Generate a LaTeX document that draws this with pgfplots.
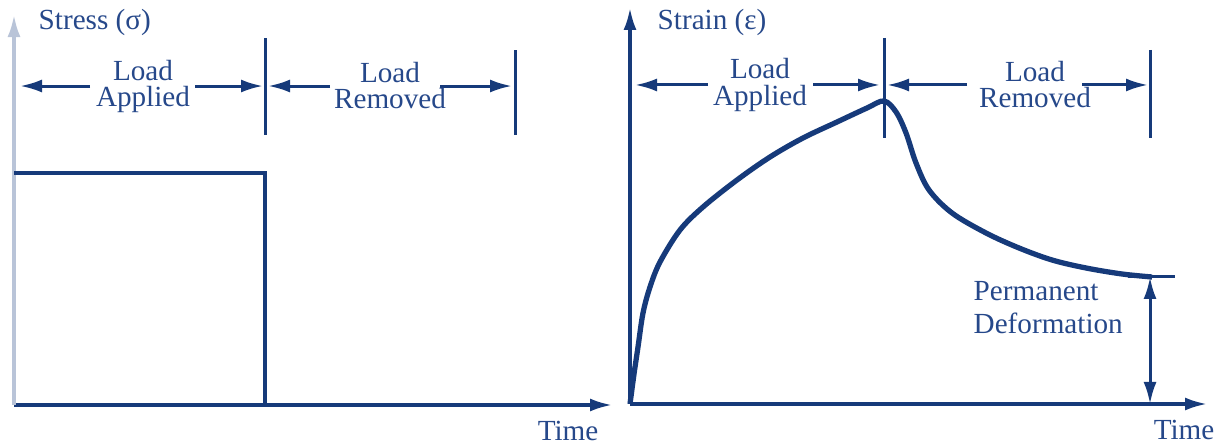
\documentclass[border=0pt]{standalone}
\usepackage{fontspec}
\setmainfont{Liberation Serif}
\usepackage{pgfplots}
\pgfplotsset{compat=1.18}
\usetikzlibrary{arrows.meta}

\definecolor{navy}{RGB}{22,58,122}
\definecolor{txt}{RGB}{38,72,138}
\definecolor{faint}{RGB}{185,196,216}

\tikzset{lbl/.style={text=txt, inner sep=0pt, align=center,
  font=\fontsize{8.3}{7.4}\selectfont}}

\pgfplotsset{
  panel/.style={
    scale only axis, axis lines=left, clip=false,
    xmin=0, ymin=0, ticks=none,
    axis line style={navy, line width=0.9pt, -{Latex[length=0.22cm,width=0.13cm]}},
  },
  dim/.style={navy, line width=0.85pt, no markers},
  arr/.style={navy, line width=0.85pt, no markers, -{Latex[length=0.22cm,width=0.13cm]}},
}

\begin{document}
\begin{tikzpicture}
\useasboundingbox (0,0) rectangle (12.22cm,4.45cm);

% stress panel
\begin{axis}[panel, at={(0.14cm,0.40cm)}, anchor=south west,
  xmax=598, ymax=390, width=5.98cm, height=3.90cm,
  y axis line style={faint}]
\addplot[navy, line width=1.2pt] coordinates {(0,232) (251,232) (251,0) (506,0)};
\addplot[dim] coordinates {(251,367) (251,270)};
\addplot[dim] coordinates {(501,355) (501,270)};
\addplot[arr] coordinates {(76,319) (6,319)};
\addplot[arr] coordinates {(181,319) (249,319)};
\addplot[arr] coordinates {(316,319) (254,319)};
\addplot[arr] coordinates {(426,319) (498,319)};
\node[lbl] at (axis cs:129,319) {Load\\Applied};
\node[lbl] at (axis cs:376,319) {Load\\Removed};
\node[lbl, anchor=west] at (axis cs:24,383) {Stress (σ)};
\node[lbl, anchor=base] at (axis cs:554,-36) {Time};
\end{axis}

% strain panel
\begin{axis}[panel, at={(6.30cm,0.41cm)}, anchor=south west,
  xmax=577, ymax=396, width=5.77cm, height=3.96cm]
\addplot[navy, line width=1.5pt, smooth, tension=0.55] coordinates {
  (0,0) (4,30) (8,57) (13,91) (20,117) (30,142) (50,174) (73,197) (107,224)
  (140,247) (173,266) (207,282) (237,296) (254,303)
  (266,292) (276,271) (286,241) (299,214) (322,191) (356,171) (389,156)
  (422,144) (456,136) (492,130) (522,127)};
\addplot[dim] coordinates {(254,366) (254,266)};
\addplot[dim] coordinates {(520,354) (520,266)};
\addplot[dim] coordinates {(498,127) (545,127)};
\addplot[arr] coordinates {(78,319) (5,319)};
\addplot[arr] coordinates {(183,319) (250,319)};
\addplot[arr] coordinates {(337,319) (257,319)};
\addplot[arr] coordinates {(452,319) (518,319)};
\addplot[arr, {Latex[length=0.22cm,width=0.13cm]}-{Latex[length=0.22cm,width=0.13cm]}]
  coordinates {(520,127) (520,0)};
\node[lbl] at (axis cs:130,319) {Load\\Applied};
\node[lbl] at (axis cs:405,319) {Load\\Removed};
\node[lbl, anchor=west] at (axis cs:27,381) {Strain (ε)};
\node[lbl, anchor=west, align=left, font=\fontsize{8.3}{9.4}\selectfont]
  at (axis cs:343,96) {Permanent\\Deformation};
\node[lbl, anchor=base] at (axis cs:554,-36) {Time};
\end{axis}
\end{tikzpicture}
\end{document}
